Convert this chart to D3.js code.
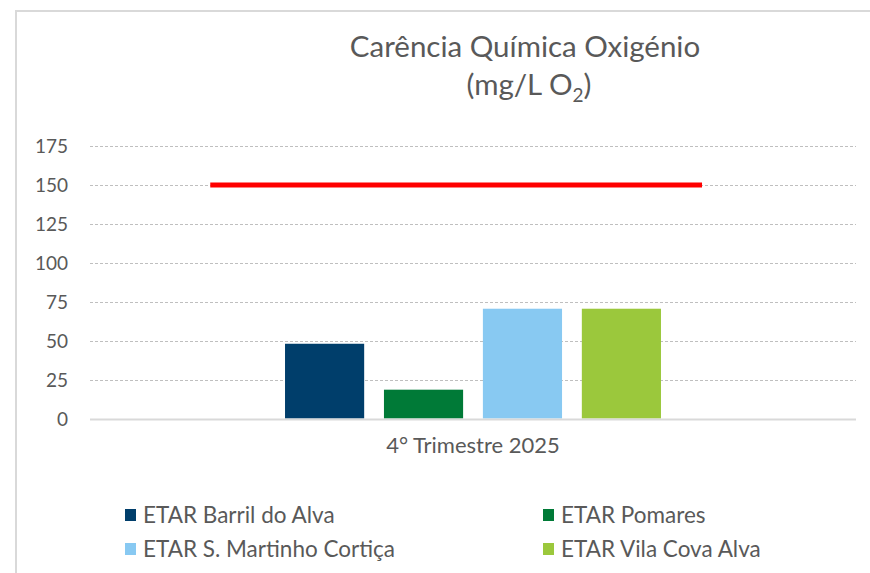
<!DOCTYPE html>
<html>
<head>
<meta charset="utf-8">
<script src="https://cdn.jsdelivr.net/npm/d3@7"></script>
<style>
  body { margin: 0; background: #fff; }
  text { font-family: Lato, "Open Sans", sans-serif; fill: #595959; }
</style>
</head>
<body>
<script>
// Chart data
const categories = ["4° Trimestre 2025"];
const series = ["ETAR Barril do Alva", "ETAR Pomares", "ETAR S. Martinho Cortiça", "ETAR Vila Cova Alva"];
const values = [48, 18.5, 70.5, 70.5];
const colors = ["#003E6B", "#007A37", "#88C9F2", "#9BC83C"];
const limitValue = 150;
const yTicks = [0, 25, 50, 75, 100, 125, 150, 175];

const width = 870, height = 573;

const svg = d3.select("body")
    .append("svg")
    .attr("width", width)
    .attr("height", height);

// chart border (only top and left visible in the frame)
svg.append("path")
    .attr("d", `M16,${height} L16,11 L${width},11`)
    .attr("fill", "none")
    .attr("stroke", "#d9d9d9")
    .attr("stroke-width", 2);

// title
const title = svg.append("text")
    .attr("text-anchor", "middle")
    .style("font-size", "29.5px");
title.append("tspan").attr("x", 525).attr("y", 57).text("Carência Química Oxigénio");
const t2 = title.append("tspan").attr("x", 529).attr("y", 95);
t2.append("tspan").text("(mg/L O");
t2.append("tspan").attr("dy", 7).style("font-size", "19px").text("2");
t2.append("tspan").attr("dy", -7).text(")");

// scales
const y = d3.scaleLinear()
    .domain([0, 175])
    .range([418.5, 146]);

const x = d3.scaleBand()
    .domain(categories)
    .range([90, 856]);

const groupPad = 0.2546;
const xs = d3.scaleBand()
    .domain(series)
    .range([x(categories[0]) + x.bandwidth() * groupPad, x(categories[0]) + x.bandwidth() * (1 - groupPad)])
    .paddingInner(0.2);

// gridlines
svg.append("g")
    .selectAll("line")
    .data(yTicks.filter(d => d > 0))
    .enter()
    .append("line")
    .attr("x1", 90)
    .attr("x2", 856)
    .attr("y1", d => Math.round(y(d)) + 0.5)
    .attr("y2", d => Math.round(y(d)) + 0.5)
    .attr("stroke", "#bfbfbf")
    .attr("stroke-dasharray", "3,2");

// y labels
svg.append("g")
    .selectAll("text")
    .data(yTicks)
    .enter()
    .append("text")
    .attr("x", 68)
    .attr("y", d => y(d) + 7)
    .attr("text-anchor", "end")
    .style("font-size", "19px")
    .text(d => d);

// bars
svg.append("g")
    .selectAll("rect")
    .data(values)
    .enter()
    .append("rect")
    .attr("x", (d, i) => xs(series[i]))
    .attr("y", d => y(d))
    .attr("width", xs.bandwidth())
    .attr("height", d => y(0) - y(d))
    .attr("fill", (d, i) => colors[i]);

// baseline
svg.append("line")
    .attr("x1", 90)
    .attr("x2", 856)
    .attr("y1", y(0) + 1)
    .attr("y2", y(0) + 1)
    .attr("stroke", "#d9d9d9")
    .attr("stroke-width", 2);

// limit line
svg.append("line")
    .attr("x1", x(categories[0]) + x.bandwidth() * 0.157)
    .attr("x2", x(categories[0]) + x.bandwidth() * 0.799)
    .attr("y1", y(limitValue))
    .attr("y2", y(limitValue))
    .attr("stroke", "#ff0000")
    .attr("stroke-width", 5);

// category label
svg.append("text")
    .attr("x", x(categories[0]) + x.bandwidth() / 2)
    .attr("y", 453)
    .attr("text-anchor", "middle")
    .style("font-size", "22px")
    .text(categories[0]);

// legend
const legend = svg.append("g")
    .selectAll("g")
    .data(series)
    .enter()
    .append("g")
    .attr("transform", (d, i) => `translate(${i % 2 === 0 ? 125 : 543}, ${i < 2 ? 509 : 543})`);

legend.append("rect")
    .attr("width", 11)
    .attr("height", 12)
    .attr("fill", (d, i) => colors[i]);

legend.append("text")
    .attr("x", 18)
    .attr("y", 14)
    .style("font-size", "22.5px")
    .text(d => d);
</script>
</body>
</html>
